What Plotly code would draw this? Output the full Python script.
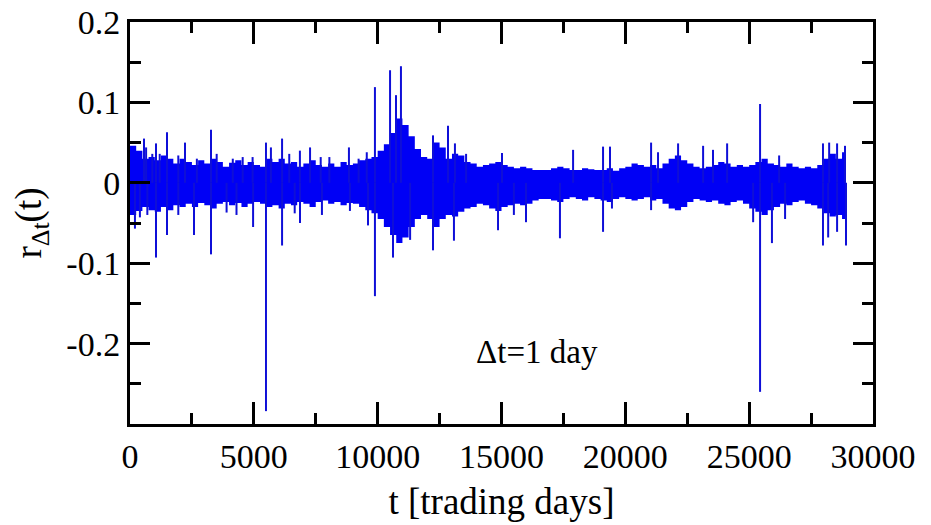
import plotly.graph_objects as go

# Sample times (trading days) for the envelope of the dense return band
band_t = list(range(0, 29000, 250)) + [28900]
band_upper = [
    0.046, 0.040, 0.030, 0.032, 0.028, 0.034, 0.030, 0.024, 0.030, 0.026,
    0.022, 0.028, 0.024, 0.030, 0.026, 0.020, 0.025, 0.028, 0.022, 0.026,
    0.022, 0.020, 0.030, 0.026, 0.030, 0.024, 0.026, 0.020, 0.024, 0.028,
    0.022, 0.020, 0.024, 0.020, 0.026, 0.022, 0.024, 0.028, 0.030, 0.032,
    0.040, 0.048, 0.062, 0.080, 0.072, 0.058, 0.042, 0.032, 0.030, 0.050,
    0.044, 0.030, 0.036, 0.034, 0.026, 0.024, 0.020, 0.022, 0.024, 0.026,
    0.022, 0.020, 0.018, 0.020, 0.018, 0.016, 0.016, 0.016, 0.018, 0.020,
    0.018, 0.016, 0.016, 0.018, 0.017, 0.016, 0.016, 0.018, 0.015, 0.018,
    0.020, 0.024, 0.022, 0.020, 0.022, 0.018, 0.024, 0.030, 0.034, 0.028,
    0.024, 0.020, 0.018, 0.020, 0.022, 0.026, 0.024, 0.020, 0.022, 0.020,
    0.022, 0.026, 0.030, 0.024, 0.022, 0.020, 0.024, 0.020, 0.018, 0.020,
    0.018, 0.022, 0.030, 0.036, 0.030, 0.038, 0.035,
]
band_lower = [
    -0.040, -0.035, -0.030, -0.034, -0.036, -0.030, -0.034, -0.028, -0.030, -0.026,
    -0.030, -0.025, -0.028, -0.032, -0.026, -0.024, -0.028, -0.025, -0.030, -0.026,
    -0.024, -0.026, -0.030, -0.028, -0.032, -0.026, -0.028, -0.024, -0.026, -0.030,
    -0.024, -0.022, -0.026, -0.024, -0.028, -0.025, -0.026, -0.030, -0.034, -0.038,
    -0.045, -0.055, -0.065, -0.075, -0.068, -0.055, -0.045, -0.040, -0.045, -0.055,
    -0.045, -0.040, -0.042, -0.036, -0.032, -0.030, -0.026, -0.028, -0.032, -0.035,
    -0.030, -0.028, -0.026, -0.028, -0.026, -0.022, -0.020, -0.020, -0.022, -0.024,
    -0.020, -0.018, -0.020, -0.022, -0.018, -0.020, -0.022, -0.024, -0.020, -0.018,
    -0.020, -0.022, -0.020, -0.018, -0.022, -0.020, -0.026, -0.032, -0.034, -0.030,
    -0.024, -0.020, -0.022, -0.024, -0.022, -0.026, -0.028, -0.024, -0.022, -0.026,
    -0.032, -0.036, -0.040, -0.034, -0.030, -0.026, -0.028, -0.024, -0.022, -0.026,
    -0.028, -0.032, -0.038, -0.042, -0.040, -0.045, -0.042,
]

# Individual spikes (trading day, return) sticking out of the band
spike_t = [
    565, 1050, 1494, 2220, 3270, 5490, 6140, 7270, 8840, 9890, 10500, 10740,
    10940, 12235, 12840, 13120, 13570, 15020, 17890, 19100, 19380, 21040, 21320,
    22130, 23140, 23540, 24110, 25440, 26210, 27980, 28230, 28550, 28870,
    650, 900, 1200, 1950, 2700, 3500, 4150, 4550, 4950, 5690, 6430, 6860,
    7700, 8050, 9230, 9560,
    200, 1050, 1494, 2584, 3270, 4970, 5490, 6140, 6865, 9610, 9890, 10620,
    11310, 12235, 13080, 14860, 15500, 15990, 17360, 19100, 19460, 21040,
    25160, 25440, 25920, 26450, 27980, 28190, 28550, 28910,
    400, 700, 1950, 3900, 4300, 6650, 7750, 8880,
]
spike_r = [
    0.055, 0.049, 0.063, 0.050, 0.066, 0.050, 0.055, 0.044, 0.044, 0.119, 0.140, 0.109,
    0.145, 0.059, 0.071, 0.049, 0.036, 0.037, 0.041, 0.045, 0.045, 0.050, 0.038,
    0.049, 0.046, 0.041, 0.049, 0.098, 0.034, 0.049, 0.050, 0.049, 0.046,
    0.044, 0.036, 0.036, 0.034, 0.030, 0.036, 0.030, 0.032, 0.032, 0.044, 0.036, 0.040,
    0.032, 0.032, 0.030, 0.038,
    -0.057, -0.093, -0.065, -0.065, -0.089, -0.055, -0.284, -0.078, -0.050, -0.053, -0.141, -0.093,
    -0.071, -0.084, -0.072, -0.059, -0.040, -0.049, -0.069, -0.061, -0.032, -0.034,
    -0.049, -0.260, -0.075, -0.045, -0.078, -0.068, -0.061, -0.078,
    -0.043, -0.040, -0.040, -0.037, -0.040, -0.038, -0.040, -0.035,
]

x_tickvals = [0, 5000, 10000, 15000, 20000, 25000, 30000]
x_ticktext = ["0", "5000", "10000", "15000", "20000", "25000", "30000"]
x_minor = [2500, 7500, 12500, 17500, 22500, 27500]
y_tickvals = [0.2, 0.1, 0, -0.1, -0.2]
y_ticktext = ["0.2", "0.1", "0", "-0.1", "-0.2"]
y_minor = [0.15, 0.05, -0.05, -0.15, -0.25]

BLUE = "rgb(0,0,245)"
SPIKE = "rgb(15,15,215)"
FONT = "Liberation Serif"

sx, sy = [], []
for t, r in zip(spike_t, spike_r):
    sx += [t, t, None]
    sy += [0, r, None]

fig = go.Figure()
fig.add_trace(go.Scatter(x=band_t, y=band_lower, mode="lines",
                         line=dict(width=0, shape="hv", color=BLUE),
                         hoverinfo="skip", showlegend=False))
fig.add_trace(go.Scatter(x=band_t, y=band_upper, mode="lines",
                         line=dict(width=0, shape="hv", color=BLUE),
                         fill="tonexty", fillcolor=BLUE,
                         hoverinfo="skip", showlegend=False))
fig.add_trace(go.Scatter(x=sx, y=sy, mode="lines",
                         line=dict(width=2, color=SPIKE),
                         showlegend=False))

axis_common = dict(
    showgrid=False, zeroline=False, showline=True, linecolor="black",
    linewidth=3, mirror="allticks", ticks="inside", tickcolor="black",
    tickwidth=3, tickfont=dict(family=FONT, size=34, color="black"),
    tickmode="array", automargin=False,
)

fig.update_xaxes(
    **axis_common, range=[0, 30000], tickvals=x_tickvals, ticktext=x_ticktext,
    ticklen=22, ticklabelstandoff=0,
    minor=dict(tickmode="array", tickvals=x_minor, ticks="inside", ticklen=11,
               tickwidth=3, tickcolor="black", showgrid=False),
    title=dict(text="t [trading days]", font=dict(family=FONT, size=37, color="black"),
               standoff=15),
)
fig.update_yaxes(
    **axis_common, range=[-0.3, 0.2], tickvals=y_tickvals, ticktext=y_ticktext,
    ticklen=20, ticklabelstandoff=0,
    minor=dict(tickmode="array", tickvals=y_minor, ticks="inside", ticklen=11,
               tickwidth=3, tickcolor="black", showgrid=False),
    title=dict(text="r<sub>Δt</sub>(t)", font=dict(family=FONT, size=37, color="black"),
               standoff=14),
)

fig.add_annotation(x=16435, y=-0.211, text="Δt=1 day", showarrow=False,
                   font=dict(family=FONT, size=33, color="black"))

fig.update_layout(
    width=931, height=525,
    margin=dict(l=130, r=58, t=22, b=101),
    plot_bgcolor="white", paper_bgcolor="white",
)

fig.write_html("out.html", config={"displayModeBar": False},
               post_script="document.body.style.margin='0px';")
